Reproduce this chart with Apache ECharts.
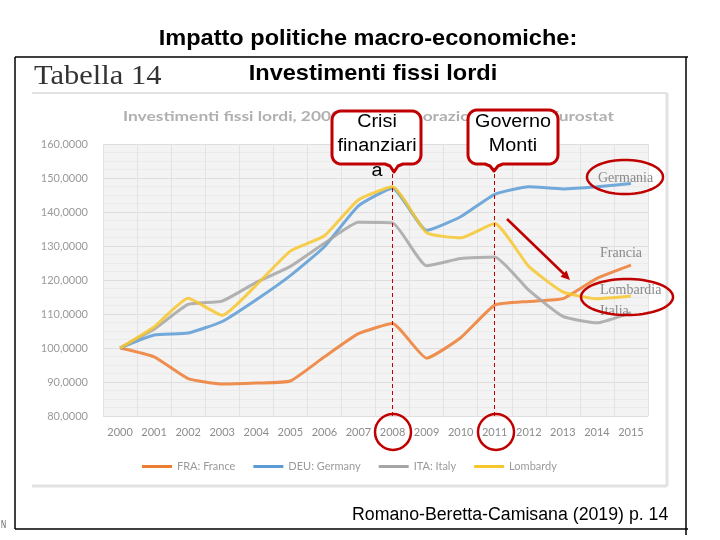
<!DOCTYPE html>
<html>
<head>
<meta charset="utf-8">
<script src="https://cdn.jsdelivr.net/npm/echarts@6/dist/echarts.min.js"></script>
<style>html,body{margin:0;padding:0;background:#fff}#c{width:720px;height:540px}</style>
</head>
<body>
<div id="c"></div>
<script>
const years = ['2000','2001','2002','2003','2004','2005','2006','2007','2008','2009','2010','2011','2012','2013','2014','2015'];
const france = [100, 97.4, 91.0, 89.4, 89.7, 90.3, 97.4, 104.2, 107.2, 97.0, 103.0, 112.6, 113.7, 114.5, 120.5, 124.4];
const germany = [100, 103.8, 104.4, 107.8, 114.2, 121.3, 129.8, 141.8, 147.0, 134.6, 138.6, 145.2, 147.4, 146.8, 147.4, 148.4];
const italy = [100, 105.5, 112.8, 113.8, 119.3, 124.0, 130.8, 137.0, 136.8, 124.2, 126.3, 126.8, 117.0, 109.3, 107.4, 110.4];
const lombardy = [100, 106.2, 114.6, 109.6, 118.5, 128.5, 133.0, 143.6, 147.4, 133.9, 132.4, 136.6, 124.0, 116.5, 114.5, 115.3];
const seriesNames = ['FRA: France', 'DEU: Germany', 'ITA: Italy', 'Lombardy'];
const markedYears = ['2008', '2011'];

const RED = '#c00000';
const chart = echarts.init(document.getElementById('c'), null, {renderer: 'canvas'});

function callout(x1, y1, x2, y2, tip, tipY) {
  const r = 9, pts = [];
  const arc = (cx, cy, a0, a1) => {
    for (let i = 0; i <= 6; i++) {
      const a = a0 + (a1 - a0) * i / 6;
      pts.push([cx + r * Math.cos(a), cy + r * Math.sin(a)]);
    }
  };
  arc(x1 + r, y1 + r, Math.PI, Math.PI * 1.5);
  arc(x2 - r, y1 + r, Math.PI * 1.5, Math.PI * 2);
  arc(x2 - r, y2 - r, 0, Math.PI * 0.5);
  pts.push([tip + 9, y2], [tip + 4, y2 + 2], [tip, tipY], [tip - 4, y2 + 2], [tip - 9, y2]);
  arc(x1 + r, y2 - r, Math.PI * 0.5, Math.PI);
  return pts;
}
function ellipsePts(cx, cy, rx, ry) {
  const pts = [];
  for (let i = 0; i < 72; i++) {
    const a = i / 72 * Math.PI * 2;
    pts.push([cx + rx * Math.cos(a), cy + ry * Math.sin(a)]);
  }
  return pts;
}

const mkSeries = (name, data, color) => ({
  name: name, type: 'line', data: data, smooth: 0.15, showSymbol: false, symbol: 'none',
  lineStyle: {width: 3, color: color, opacity: 0.85},
  itemStyle: {color: color},
  emphasis: {disabled: true}
});

const series = [
  mkSeries(seriesNames[0], france, '#ED7D31'),
  mkSeries(seriesNames[1], germany, '#5B9BD5'),
  mkSeries(seriesNames[2], italy, '#A5A5A5'),
  mkSeries(seriesNames[3], lombardy, '#F7C62E')
];
series[3].markLine = {
  silent: true, symbol: 'none', label: {show: false},
  lineStyle: {color: RED, type: [4, 3], width: 1},
  data: markedYears.map(y => ({xAxis: y}))
};

const txt = (x, y, text, font, fill, align, sx) => ({
  type: 'text', x: x, y: y, z: 100, scaleX: sx || 1,
  style: {text: text, font: font, fill: fill, textAlign: align || 'left', textVerticalAlign: 'middle'}
});
const ln = (x1, y1, x2, y2, stroke, w, z) => ({
  type: 'line', z: z || 100, shape: {x1: x1, y1: y1, x2: x2, y2: y2},
  style: {stroke: stroke, lineWidth: w}
});

const graphic = [
  ln(15, 57, 688, 57, '#000', 1.5),
  ln(15, 57, 15, 529, '#000', 1.5),
  ln(15, 529, 688, 529, '#000', 1.5),
  ln(686, 57, 686, 535, '#000', 1.5),
  ln(32, 93, 667, 93, '#e2e2e2', 2, 1),
  ln(667, 93, 667, 486, '#e2e2e2', 3, 1),
  ln(32, 486, 667, 486, '#e2e2e2', 3, 1),
  txt(368, 39, 'Impatto politiche macro-economiche:', 'bold 22px "Liberation Sans", Arial', '#000', 'center', 1.07),
  txt(373, 74, 'Investimenti fissi lordi', 'bold 22px "Liberation Sans", Arial', '#000', 'center', 1.07),
  txt(34, 77, 'Tabella 14', '27px "Liberation Serif", serif', '#333', 'left', 1.13),
  txt(123, 116, 'Investimenti fissi lordi, 2000=100. Elaborazione su dati Eurostat', 'bold 14px Lato', '#b0b0b0', 'left', 1.24),
  txt(598, 178, 'Germania', '14px "Liberation Serif", serif', '#8a8a8a'),
  txt(600, 253, 'Francia', '14px "Liberation Serif", serif', '#8a8a8a'),
  txt(600, 290, 'Lombardia', '14px "Liberation Serif", serif', '#8a8a8a'),
  txt(600, 311, 'Italia', '14px "Liberation Serif", serif', '#8a8a8a'),
  {type: 'polygon', z: 100, shape: {points: callout(332, 111, 421, 164, 394, 172)},
   style: {fill: '#fff', stroke: RED, lineWidth: 3, lineJoin: 'round'}},
  {type: 'polygon', z: 100, shape: {points: callout(468, 110, 558, 164, 494, 171)},
   style: {fill: '#fff', stroke: RED, lineWidth: 3, lineJoin: 'round'}},
  txt(377, 122, 'Crisi', '18px "Liberation Sans", Arial', '#000', 'center', 1.1),
  txt(377, 146, 'finanziari', '18px "Liberation Sans", Arial', '#000', 'center', 1.1),
  txt(377, 171, 'a', '18px "Liberation Sans", Arial', '#000', 'center', 1.1),
  txt(513, 122, 'Governo', '18px "Liberation Sans", Arial', '#000', 'center', 1.1),
  txt(513, 146, 'Monti', '18px "Liberation Sans", Arial', '#000', 'center', 1.1),
  {type: 'circle', z: 100, shape: {cx: 393, cy: 432, r: 18}, style: {fill: 'none', stroke: RED, lineWidth: 2.5}},
  {type: 'circle', z: 100, shape: {cx: 496, cy: 432, r: 18}, style: {fill: 'none', stroke: RED, lineWidth: 2.5}},
  {type: 'polygon', z: 100, shape: {points: ellipsePts(625, 177, 38, 17)}, style: {fill: 'none', stroke: RED, lineWidth: 2.5}},
  {type: 'polygon', z: 100, shape: {points: ellipsePts(627, 297, 46, 18)}, style: {fill: 'none', stroke: RED, lineWidth: 2.5}},
  ln(507, 219, 565, 275, RED, 2.5),
  {type: 'polygon', z: 100, shape: {points: [[570, 280], [560.5, 276.8], [566.5, 270.5]]}, style: {fill: RED}},
  txt(352, 515, 'Romano-Beretta-Camisana (2019) p. 14', '18px "Liberation Sans", Arial', '#000', 'left', 0.985),
  txt(1, 525, 'N', '10px "Liberation Sans", Arial', '#555', 'left', 0.7)
];

chart.setOption({
  backgroundColor: '#fff',
  animation: false,
  textStyle: {fontFamily: 'Lato'},
  grid: {left: 103, right: 72, top: 144, bottom: 124, show: true, backgroundColor: '#f3f3f3', borderWidth: 0},
  legend: {
    left: 137, top: 456, itemWidth: 30, itemHeight: 3, itemGap: 18, icon: 'rect',
    textStyle: {color: '#9a9a9a', fontSize: 11, fontFamily: 'Lato'},
    data: seriesNames
  },
  xAxis: {
    type: 'category', data: years, boundaryGap: true,
    axisLine: {show: false}, axisTick: {show: false},
    axisLabel: {color: '#8c8c8c', fontSize: 11, margin: 11, fontFamily: 'Lato'},
    splitLine: {show: true, lineStyle: {color: '#e3e3e3', width: 1}}
  },
  yAxis: {
    type: 'value', min: 80, max: 160, interval: 10,
    axisLine: {show: false}, axisTick: {show: false},
    axisLabel: {color: '#9a9a9a', fontSize: 11, margin: 15, fontFamily: 'Lato',
      formatter: v => v.toFixed(4).replace('.', ',')},
    splitLine: {show: true, lineStyle: {color: '#dedede', width: 1}},
    minorTick: {show: false, splitNumber: 4},
    minorSplitLine: {show: true, lineStyle: {color: '#ebebeb', width: 1}}
  },
  series: series,
  graphic: graphic
});
</script>
</body>
</html>
